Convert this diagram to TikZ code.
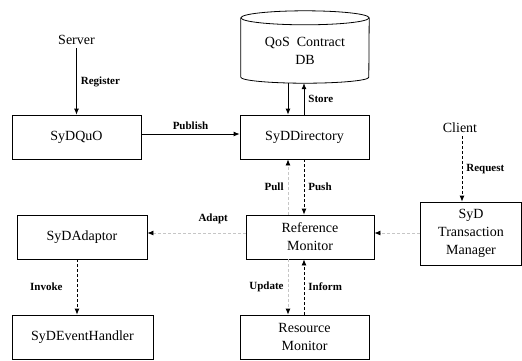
\documentclass[tikz,border=0pt]{standalone}
\usepackage{fontspec}
\setmainfont{Liberation Serif}
\usetikzlibrary{arrows.meta}

\begin{document}
\begin{tikzpicture}[x=1pt, y=-1pt,
	>={Latex[length=6pt, width=5pt]},
	box/.style={draw, line width=0.8pt, minimum height=44pt, inner sep=0pt, align=center, font=\fontsize{14}{18}\selectfont},
	txt/.style={font=\fontsize{14}{18}\selectfont},
	lbl/.style={inner sep=4pt, text=black, font=\fontsize{11}{13}\selectfont\bfseries},
	flow/.style={->, line width=0.8pt},
	call/.style={->, line width=0.8pt, dash pattern=on 3pt off 2pt},
	hint/.style={-{Latex[length=6pt, width=5pt, color=black]}, line width=0.8pt, gray!45, dash pattern=on 3pt off 2pt}]
	\useasboundingbox (0,0) rectangle (522,360);
	
	\coordinate (c1) at (288,0);						% linke Spalte
	\coordinate (c2) at (304,0);						% rechte Spalte
	\coordinate (c3) at (77,0);
	\coordinate (r1) at (0,233);						% Zeile Adapt
	
	\node [txt] (server) at (76.5,40) {Server};
	\node [box, minimum width=129pt] (quo) at (76.5,137) {SyDQuO};
	\node [box, minimum width=129pt] (dir) at (304.5,137) {SyDDirectory};
	\node [txt, align=center, inner sep=0pt, minimum width=128pt, minimum height=64pt] (db) at (305,51) {QoS\ \ Contract\\DB};
	\node [txt] (client) at (460,128) {Client};
	\node [box, minimum width=101pt, minimum height=63pt] (tm) at (471,233.5) {SyD\\Transaction\\Manager};
	\node [box, minimum width=128pt] (rm) at (310,237) {Reference\\Monitor};
	\node [box, minimum width=130pt] (adp) at (82,237) {SyDAdaptor};
	\node [box, minimum width=141pt] (evh) at (82.5,337) {SyDEventHandler};
	\node [box, minimum width=129pt] (res) at (304.5,337) {Resource\\Monitor};
	
	% Datenbank
	\draw [line width=0.8pt] ([yshift=1pt]db.north) ellipse [x radius=64pt, y radius=7pt];
	\draw [line width=0.8pt] ([yshift=1pt]db.north west) -- ([yshift=6pt]db.south west) arc [start angle=180, end angle=360, x radius=64pt, y radius=6pt] -- ([yshift=1pt]db.north east);
	
	\draw [flow] (server) -- node [lbl, right] {Register} (quo);
	\draw [flow] ([yshift=3pt]quo.east) -- node [lbl, above] {Publish} ([yshift=3pt]dir.west);
	\draw [flow] (db.south -| c1) -- (dir.north -| c1);
	\draw [flow] (dir.north -| c2) -- node [lbl, right] {Store} (db.south -| c2);
	\draw [hint] (rm.north -| c1) -- node [lbl, left] {Pull} (dir.south -| c1);
	\draw [call] (dir.south -| c2) -- node [lbl, right] {Push} (rm.north -| c2);
	\draw [call] (client.south -| 462,0) -- node [lbl, right] {Request} (tm.north -| 462,0);
	\draw [hint] (tm.west |- r1) -- (rm.east |- r1);
	\draw [hint] (rm.west |- r1) -- node [lbl, above=5pt, pos=0.33] {Adapt} (adp.east |- r1);
	\draw [call] (adp.south -| c3) -- node [lbl, left=10pt] {Invoke} (evh.north -| c3);
	\draw [hint] (rm.south -| c1) -- node [lbl, left] {Update} (res.north -| c1);
	\draw [call] (res.north -| c2) -- node [lbl, right] {Inform} (rm.south -| c2);

\end{tikzpicture}
\end{document}
